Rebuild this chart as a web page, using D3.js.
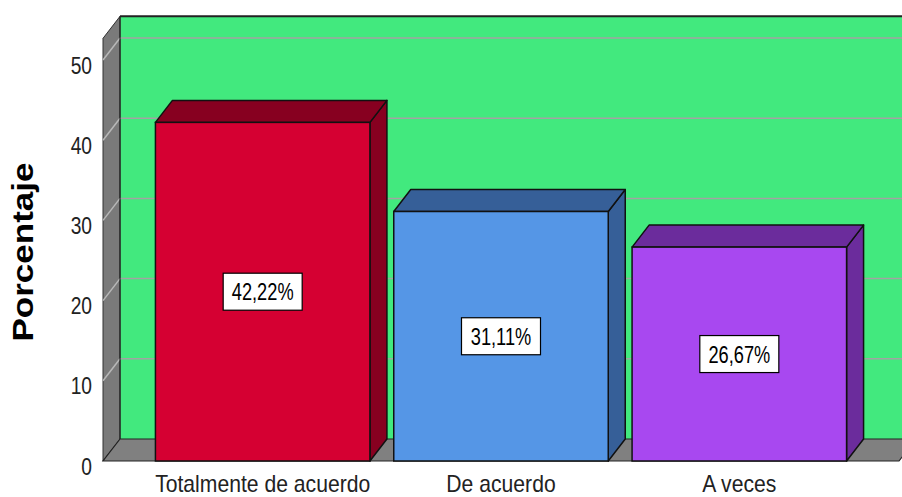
<!DOCTYPE html>
<html>
<head>
<meta charset="utf-8">
<script src="https://cdn.jsdelivr.net/npm/d3@7"></script>
<style>
  body { margin: 0; background: #fff; }
  text { font-family: "Liberation Sans", Arial, sans-serif; }
</style>
</head>
<body>
<div id="chart"></div>
<script>
const categories = ['Totalmente de acuerdo', 'De acuerdo', 'A veces'];
const values = [42.22, 31.11, 26.67];
const valueLabels = ['42,22%', '31,11%', '26,67%'];
const yTicks = [0, 10, 20, 30, 40, 50];
const frontColors = ['#d50032', '#5596e6', '#a848f0'];
const darkColors = ['#870020', '#365f98', '#6b2c9c'];

const width = 902;
const height = 497;
const dx = 17, dy = -22;   // depth of the 3d box
const yMax = 52.7;

const svg = d3.select('#chart')
    .append('svg')
    .attr('width', width)
    .attr('height', height);

const y = d3.scaleLinear()
    .domain([0, 50])
    .range([461, 60]);

const x = d3.scaleBand()
    .domain(categories)
    .range([103, 899])
    .paddingInner(0.1)
    .paddingOuter(0.22);

const x0 = 103, x1 = 899;
const yb = y(0), yt = y(yMax);

// back wall
svg.append('polygon')
    .attr('points', [[x0 + dx, yt + dy], [x1 + dx, yt + dy], [x1 + dx, yb + dy], [x0 + dx, yb + dy]].join(' '))
    .attr('fill', '#42e97e');

// left wall
svg.append('polygon')
    .attr('points', [[x0, yb], [x0, yt], [x0 + dx, yt + dy], [x0 + dx, yb + dy]].join(' '))
    .attr('fill', '#7a7a7a')
    .attr('stroke', '#333')
    .attr('stroke-width', 1);

// floor
svg.append('polygon')
    .attr('points', [[x0, yb], [x1, yb], [x1 + dx, yb + dy], [x0 + dx, yb + dy]].join(' '))
    .attr('fill', '#808080')
    .attr('stroke', '#222')
    .attr('stroke-width', 1.2);

// gridlines (back wall + left wall)
const grid = yTicks.filter(d => d > 0);
svg.selectAll('.gridBack')
    .data(grid)
    .join('line')
    .attr('x1', x0 + dx).attr('x2', x1 + dx)
    .attr('y1', d => y(d) + dy).attr('y2', d => y(d) + dy)
    .attr('stroke', '#a3a3a3')
    .attr('stroke-width', 1.5);

svg.selectAll('.gridSide')
    .data(grid)
    .join('line')
    .attr('x1', x0).attr('x2', x0 + dx)
    .attr('y1', d => y(d)).attr('y2', d => y(d) + dy)
    .attr('stroke', '#b8b8b8')
    .attr('stroke-width', 1.5);

// top edge of back wall
svg.append('line')
    .attr('x1', x0 + dx).attr('x2', x1 + dx)
    .attr('y1', yt + dy).attr('y2', yt + dy)
    .attr('stroke', '#222')
    .attr('stroke-width', 2);
svg.append('line')
    .attr('x1', x0 + dx).attr('x2', x0 + dx)
    .attr('y1', yt + dy).attr('y2', yb + dy)
    .attr('stroke', '#222')
    .attr('stroke-width', 1.2);

// bars
const bars = svg.selectAll('.bar')
    .data(values)
    .join('g')
    .attr('class', 'bar');

bars.append('polygon')  // side
    .attr('points', (d, i) => {
        const bx = x(categories[i]) + x.bandwidth();
        return [[bx, y(d)], [bx + dx, y(d) + dy], [bx + dx, yb + dy], [bx, yb]].join(' ');
    })
    .attr('fill', (d, i) => darkColors[i])
    .attr('stroke', '#111')
    .attr('stroke-width', 1.5)
    .attr('stroke-linejoin', 'round');

bars.append('polygon')  // top
    .attr('points', (d, i) => {
        const bx = x(categories[i]), bw = x.bandwidth();
        return [[bx, y(d)], [bx + dx, y(d) + dy], [bx + bw + dx, y(d) + dy], [bx + bw, y(d)]].join(' ');
    })
    .attr('fill', (d, i) => darkColors[i])
    .attr('stroke', '#111')
    .attr('stroke-width', 1.5)
    .attr('stroke-linejoin', 'round');

bars.append('rect')  // front
    .attr('x', (d, i) => x(categories[i]))
    .attr('y', d => y(d))
    .attr('width', x.bandwidth())
    .attr('height', d => yb - y(d))
    .attr('fill', (d, i) => frontColors[i])
    .attr('stroke', '#111')
    .attr('stroke-width', 1.5);

// value labels
const lab = bars.append('g')
    .attr('transform', (d, i) => `translate(${x(categories[i]) + x.bandwidth() / 2},${(y(d) + yb) / 2})`);
lab.append('rect')
    .attr('x', -39.5).attr('y', -18.5)
    .attr('width', 79).attr('height', 37)
    .attr('fill', '#fff')
    .attr('stroke', '#000')
    .attr('stroke-width', 1.2);
lab.append('text')
    .attr('transform', 'translate(0,8.5) scale(0.76,1)')
    .attr('text-anchor', 'middle')
    .style('font-size', '24px')
    .attr('fill', '#000')
    .text((d, i) => valueLabels[i]);

// y axis
const yAxis = svg.append('g')
    .attr('transform', `translate(${x0},0)`)
    .call(d3.axisLeft(y).tickValues(yTicks).tickSize(0).tickPadding(0));
yAxis.select('.domain').remove();
yAxis.selectAll('text')
    .attr('x', 0).attr('dy', 0)
    .attr('transform', 'translate(-11,13) scale(0.8,1)')
    .attr('text-anchor', 'end')
    .attr('fill', '#222')
    .style('font-size', '24px');

// x axis
const xAxis = svg.append('g')
    .attr('transform', `translate(0,${yb})`)
    .call(d3.axisBottom(x).tickSize(0).tickPadding(0));
xAxis.select('.domain').remove();
xAxis.selectAll('text')
    .attr('y', 0).attr('dy', 0)
    .attr('transform', 'translate(0,30.5) scale(0.92,1)')
    .attr('fill', '#222')
    .style('font-size', '23px');

// y axis label
svg.append('text')
    .attr('transform', 'translate(33,252) scale(0.82,1) rotate(-90)')
    .attr('text-anchor', 'middle')
    .style('font-size', '35px')
    .style('font-weight', 'bold')
    .attr('fill', '#000')
    .text('Porcentaje');
</script>
</body>
</html>
